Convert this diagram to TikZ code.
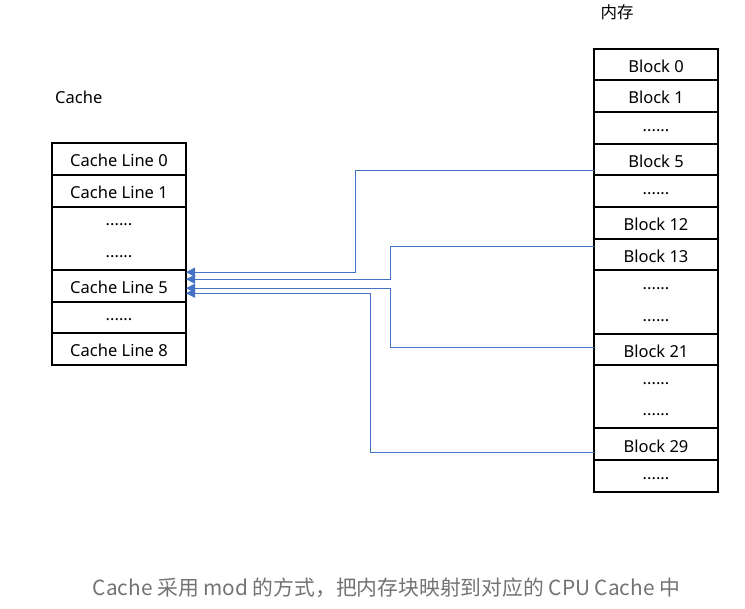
\documentclass[tikz,border=0pt]{standalone}
\usepackage{fontspec}
\setmainfont{Noto Sans}
\newfontfamily\cjk{Noto Sans CJK SC}
\usepackage{xcolor}
\usepackage{tikz}
\usetikzlibrary{positioning,arrows.meta}
\definecolor{linkblue}{RGB}{68,114,196}
\newcommand{\cellfont}{\fontsize{16.5}{19.8}\selectfont}
\newcommand{\rowdots}{\raisebox{4.5pt}{......}}

\tikzset{
  cell/.style={draw, line width=2pt, outer sep=0pt, inner sep=0pt,
    minimum height=31.65pt, text height=16pt, text depth=0.3pt, font=\cellfont},
  cachecell/.style={cell, minimum width=134pt},
  memcell/.style={cell, minimum width=124pt},
  tall/.style={minimum height=63.3pt},
  dotsnode/.style={inner sep=0pt, text height=16pt, text depth=0.3pt, font=\cellfont},
  title/.style={anchor=base west, inner sep=0pt, font=\cellfont},
  link/.style={draw=linkblue, line width=1pt, -{Triangle[length=9pt,width=9pt]}}
}

\begin{document}
\begin{tikzpicture}[x=1pt, y=-1pt]
			\useasboundingbox (0,0) rectangle (745,609);

			% Cache
			\node[title] (cachetitle) at (55,104) {Cache};
			\node[cachecell] (c0) at (119,159.1) {Cache Line 0};
			\node[cachecell, below=0pt of c0] (c1) {Cache Line 1};
			\node[cachecell, tall, below=0pt of c1] (cd) {};
			\node[cachecell, below=0pt of cd] (c5) {Cache Line 5};
			\node[cachecell, below=0pt of c5] (c6) {};
			\node[cachecell, below=0pt of c6] (c8) {Cache Line 8};
			\node[dotsnode] (cd-1) at ([yshift=15.8pt]cd.center) {\rowdots};
			\node[dotsnode] (cd-2) at ([yshift=-15.8pt]cd.center) {\rowdots};
			\node[dotsnode] (c6-1) at (c6.center) {\rowdots};

			% 内存
			\node[title, font=\cellfont\cjk] (memtitle) at (600.5,19) {内存};
			\node[memcell] (b0) at (656,64.5) {Block 0};
			\node[memcell, below=0pt of b0] (b1) {Block 1};
			\node[memcell, below=0pt of b1] (bd1) {};
			\node[memcell, below=0pt of bd1] (b5) {Block 5};
			\node[memcell, below=0pt of b5] (bd2) {};
			\node[memcell, below=0pt of bd2] (b12) {Block 12};
			\node[memcell, below=0pt of b12] (b13) {Block 13};
			\node[memcell, tall, below=0pt of b13] (bd3) {};
			\node[memcell, below=0pt of bd3] (b21) {Block 21};
			\node[memcell, tall, below=0pt of b21] (bd4) {};
			\node[memcell, below=0pt of bd4] (b29) {Block 29};
			\node[memcell, below=0pt of b29] (bd5) {};
			\node[dotsnode] (bd1-1) at (bd1.center) {\rowdots};
			\node[dotsnode] (bd2-1) at (bd2.center) {\rowdots};
			\node[dotsnode] (bd3-1) at ([yshift=15.8pt]bd3.center) {\rowdots};
			\node[dotsnode] (bd3-2) at ([yshift=-15.8pt]bd3.center) {\rowdots};
			\node[dotsnode] (bd4-1) at ([yshift=15.8pt]bd4.center) {\rowdots};
			\node[dotsnode] (bd4-2) at ([yshift=-15.8pt]bd4.center) {\rowdots};
			\node[dotsnode] (bd5-1) at (bd5.center) {\rowdots};

			% mod 映射
			\draw[link] ([yshift=-11.5pt]b5.west) -- ++(-238.3pt,0) |- ([yshift=13.5pt]c5.east);
			\draw[link] ([yshift=7.7pt]b13.west) -- ++(-204pt,0) |- ([yshift=6.5pt]c5.east);
			\draw[link] ([yshift=1.7pt]b21.west) -- ++(-203.3pt,0) |- ([yshift=-2.5pt]c5.east);
			\draw[link] ([yshift=-8.3pt]b29.west) -- ++(-223.7pt,0) |- ([yshift=-7.5pt]c5.east);

			\node[anchor=base, font=\fontsize{20.8}{25}\selectfont\cjk, text=black!55] (caption) at (386.5,595.5)
				{Cache 采用 mod 的方式，把内存块映射到对应的 CPU Cache 中};
		\end{tikzpicture}
\end{document}
